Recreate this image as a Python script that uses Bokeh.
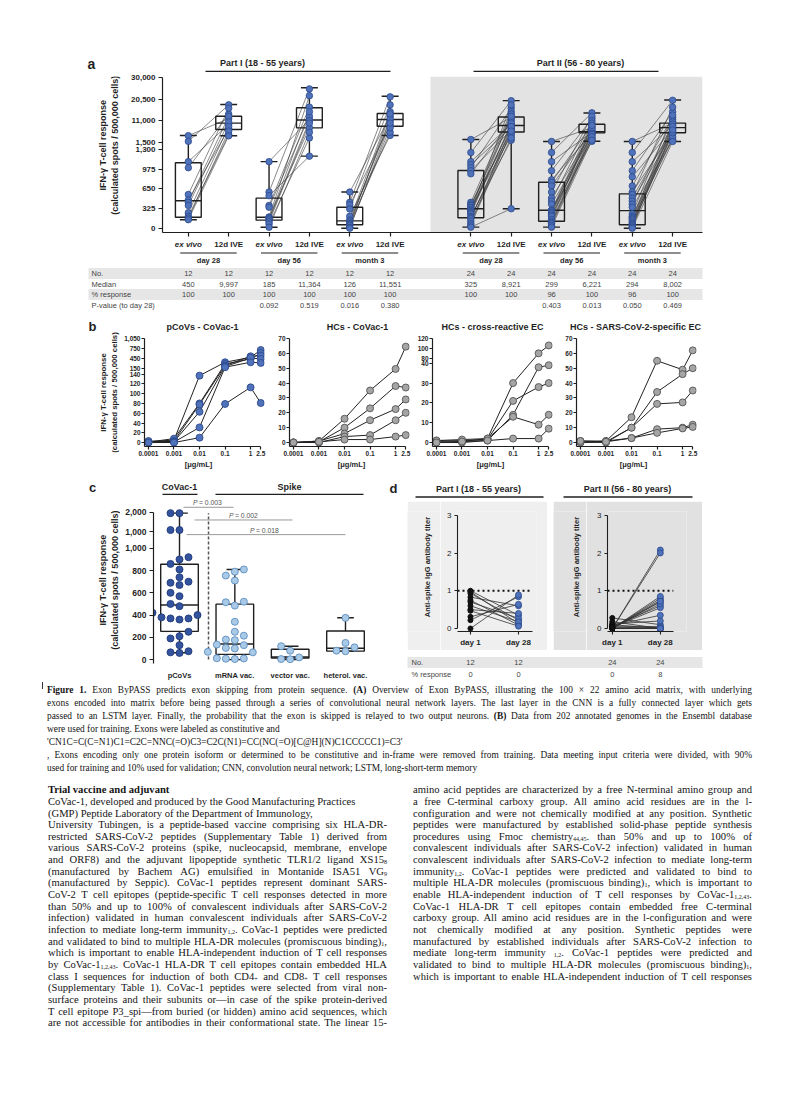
import numpy as np
from math import pi, log10
from bokeh.plotting import figure
from bokeh.models import Range1d, Label, BoxAnnotation, FixedTicker, Div, Spacer
from bokeh.layouts import column, row
from bokeh.embed import file_html
from bokeh.resources import INLINE

SANS = "Liberation Sans"
INK = "#1f1f1f"
BLUE_F, BLUE_L = "#4f72ba", "#2c4a8c"
DBLUE_F, DBLUE_L = "#34539f", "#1f3a78"
LBLUE_F, LBLUE_L = "#a9cae7", "#5b8cc0"
GRAY_F, GRAY_L = "#a5a5a5", "#555555"

# ======================= DATA =======================
# ---- panel a ----
A_POS = [0, 1, 2, 3, 4, 5, 7, 8, 9, 10, 11, 12]
A_CAT = ["ex vivo", "12d IVE"] * 6
A_GROUP = ["day 28", "day 56", "month 3", "day 28", "day 56", "month 3"]
A_PART = ["Part I (18 - 55 years)", "Part II (56 - 80 years)"]
A_YTICKS = [0, 325, 650, 975, 1300, 1500, 11000, 20500, 30000]
A_YLABELS = ["0", "325", "650", "975", "1,300", "1,500", "11,000", "20,500", "30,000"]

a1_d28_ev = [4500, 2000, 1100, 1000, 560, 470, 430, 380, 260, 200, 170, 145]
a1_d28_ive = [12000, 18000, 9500, 14000, 16500, 7500, 13000, 10500, 8500, 5000, 6500, 4400]
a1_d56_ev = [1100, 600, 540, 380, 350, 190, 180, 160, 140, 110, 75, 20]
a1_d56_ive = [11600, 25000, 1190, 17000, 13000, 22000, 8000, 15000, 11100, 10000, 3500, 6000]
a1_m3_ev = [600, 430, 390, 320, 200, 140, 112, 90, 70, 50, 20, 5]
a1_m3_ive = [13000, 21500, 9000, 18000, 4600, 15000, 11100, 12000, 6000, 14000, 8000, 10000]
a2_d28_ev = [2800, 1250, 1100, 1050, 1000, 950, 900, 430, 400, 380, 350, 340,
             310, 300, 280, 260, 240, 200, 180, 160, 120, 80, 50, 22]
a2_d28_ive = [12500, 19800, 9500, 8000, 16500, 7000, 11000, 15000, 6000, 12000, 14000, 4500,
              9000, 18000, 8850, 13000, 10000, 2500, 5500, 7500, 3500, 8500, 6500, 325]
a2_d56_ev = [1950, 1250, 1100, 950, 800, 760, 700, 600, 500, 450, 400, 300,
             298, 290, 270, 250, 220, 200, 150, 120, 100, 80, 50, 22]
a2_d56_ive = [8000, 14500, 6000, 12000, 5600, 9500, 7000, 13000, 5800, 11000, 4500, 6500,
              10000, 3000, 8500, 5700, 2000, 7500, 9000, 5500, 3500, 5000, 4000, 2500]
a2_m3_ev = [1950, 1250, 1100, 950, 850, 700, 600, 560, 500, 450, 400, 350,
            240, 200, 180, 160, 140, 110, 90, 70, 60, 40, 20, 5]
a2_m3_ive = [10000, 20000, 9000, 15000, 7500, 12500, 6000, 17000, 8100, 5500, 11500, 2500,
             13500, 7900, 5000, 10500, 3000, 9500, 6500, 4000, 8500, 5800, 7000, 1950]

A_Q1 = [186, 7200, 137, 7920, 61, 8600, 176, 6130, 120, 5720, 61, 5750]
A_MED = [456, 10000, 185, 11360, 126, 11550, 325, 8920, 299, 6220, 294, 8000]
A_Q3 = [1081, 13030, 500, 16700, 350, 14200, 954, 12700, 762, 9500, 570, 10000]
A_LO = [143, 4440, 20, 1190, 5, 4570, 22, 325, 22, 2070, 5, 1940]
A_HI = [4570, 18160, 1100, 25480, 600, 21800, 2800, 19850, 1950, 14460, 1950, 20140]

A_TAB_ROWS = ["No.", "Median", "% response", "P-value (to day 28)"]
A_N = [12, 12, 12, 12, 12, 12, 24, 24, 24, 24, 24, 24]
A_MEDIAN = [450, 9997, 185, 11364, 126, 11551, 325, 8921, 299, 6221, 294, 8002]
A_RESP = [100, 100, 100, 100, 100, 100, 100, 100, 96, 100, 96, 100]
A_PVAL = ["", "", "0.092", "0.519", "0.016", "0.380", "", "", "0.403", "0.013", "0.050", "0.469"]

# ---- panel b ----
B_CONC = [0.0001, 0.001, 0.01, 0.1, 1, 2.5]
B_XLABELS = ["0.0001", "0.001", "0.01", "0.1", "1", "2.5"]
B_TITLES = ["pCoVs - CoVac-1", "HCs - CoVac-1", "HCs - cross-reactive EC", "HCs - SARS-CoV-2-specific EC"]
b_pcovs = [[2, 5, 137, 330, 480, 700],
           [1, 8, 80, 280, 430, 610],
           [0, 3, 78, 230, 510, 530],
           [1, 2, 63, 200, 460, 430],
           [3, 1, 31, 180, 330, 310],
           [0, 0, 10, 79, 113, 81]]
b_hcs = [[0, 1, 16, 35, 49.5, 64.5],
         [0, 0.5, 10, 23, 38, 37],
         [0, 1, 6, 15, 22.5, 29],
         [0, 0, 4, 5, 15, 20],
         [0, 0.5, 2, 2, 4, 5]]
b_cross = [[1, 0.5, 2, 30, 90, 106],
           [0.5, 1, 1.5, 21, 28, 30],
           [0, 0, 1, 14, 38, 39],
           [1, 1.5, 2, 13, 9, 14],
           [0, 0.5, 1, 2, 2, 7]]
b_spec = [[1, 1, 17, 55, 49, 62],
          [0, 0.5, 10, 34, 46, 50],
          [0.5, 0, 10, 26, 27, 35],
          [0, 1, 3, 9, 10, 12],
          [1, 0.5, 3, 6.5, 9.5, 10.5]]
B1_YT = [0, 20, 40, 60, 80, 100, 120, 140, 150, 450, 750, 1050]
B1_YL = ["0", "20", "40", "60", "80", "100", "120", "140", "150", "450", "750", "1,050"]
B2_YT = [0, 10, 20, 30, 40, 50, 60, 70]
B3_YT = [0, 10, 20, 30, 40, 80, 100, 120]

# ---- panel c ----
C_GROUPS = ["pCoVs", "mRNA vac.", "vector vac.", "heterol. vac."]
c_pcovs = [1950, 1950, 1085, 1085, 920, 900, 860, 810, 740, 700, 690, 670, 600, 570, 500,
           480, 420, 400, 380, 370, 370, 360, 250, 210, 190, 130, 75, 65, 60]
c_mrna = [810, 790, 755, 710, 520, 515, 485, 340, 250, 215, 180, 175, 135, 130, 105, 100,
          70, 65, 12, 10, 8, 5]
c_vector = [120, 80, 20, 5, 3]
c_heterol = [375, 150, 110, 80, 75]
C_Q1 = [254, 47, 15, 76]
C_MED = [490, 140, 23, 102]
C_Q3 = [857, 498, 93, 257]
C_LO = [61, 0, 0, 76]
C_HI = [1950, 810, 120, 376]
C_YT_LOW = [0, 200, 400, 600, 800, 1000]
C_YT_UP = [1000, 2000]
C_PVALS = ["0.003", "0.002", "0.018"]

# ---- panel d ----
D_DAYS = ["day 1", "day 28"]
d1_day1 = [1.0, 0.97, 0.93, 0.83, 0.75, 0.7, 0.6, 0.5, 0.47, 0.31, 0.22, 0.0]
d1_day28 = [0.35, 0.13, 0.22, 0.6, 0.09, 0.27, 0.18, 0.4, 0.06, 0.64, 0.84, 0.89]
d2_day1 = [0.28, 0.18, 0.12, 0.1, 0.08, 0.06, 0.05, 0.04, 0.03, 0.02, 0.02, 0.01,
           0.01, 0, 0, 0, 0, 0, 0, 0, 0, 0, 0, 0]
d2_day28 = [0.1, 0.0, 0.2, 0.0, 0.35, 0.05, 0.6, 0.0, 0.55, 0.7, 0.0, 0.65,
            0.75, 2.08, 0.8, 0.0, 2.0, 0.85, 0.72, 0.02, 0.0, 0.0, 0.0, 0.0]
D_PART = ["Part I (18 - 55 years)", "Part II (56 - 80 years)"]
D_TAB_ROWS = ["No.", "% response"]
D_N = [12, 12, 24, 24]
D_RESP = [0, 0, 0, 8]


# ======================= HELPERS =======================
class Fr:
    """frame position on the page (pixels) and its data ranges"""
    def __init__(s, l, t, r, b, x0, x1, y0, y1, xlog=False):
        s.l, s.t, s.r, s.b = l, t, r, b
        s.x0, s.x1, s.y0, s.y1, s.xlog = x0, x1, y0, y1, xlog

    def X(s, px):
        f = (px - s.l) / (s.r - s.l)
        if s.xlog:
            return 10 ** (log10(s.x0) + f * (log10(s.x1) - log10(s.x0)))
        return s.x0 + f * (s.x1 - s.x0)

    def PX(s, x):
        return s.l + (x - s.x0) / (s.x1 - s.x0) * (s.r - s.l)

    def Y(s, py):
        return s.y0 + (s.b - py) / (s.b - s.t) * (s.y1 - s.y0)


def mkfig(fx, fy, w, h, F, x_axis_type="linear", bg="white"):
    p = figure(width=w, height=h, x_range=Range1d(F.x0, F.x1), y_range=Range1d(F.y0, F.y1),
               x_axis_type=x_axis_type, output_backend="svg", toolbar_location=None,
               min_border_left=F.l - fx, min_border_right=fx + w - F.r,
               min_border_top=F.t - fy, min_border_bottom=fy + h - F.b)
    p.xgrid.visible = False
    p.ygrid.visible = False
    p.outline_line_color = None
    p.background_fill_color = bg
    p.border_fill_color = bg
    return p


def decor(fx, fy, w, h, bg="white"):
    """annotation strip whose data coordinates are page pixels"""
    p = figure(width=w, height=h, x_range=Range1d(fx, fx + w), y_range=Range1d(fy + h, fy),
               output_backend="svg", toolbar_location=None,
               x_axis_location=None, y_axis_location=None,
               min_border_left=0, min_border_right=0, min_border_top=0, min_border_bottom=0)
    p.xgrid.visible = False
    p.ygrid.visible = False
    p.outline_line_color = None
    p.background_fill_color = bg
    p.border_fill_color = bg
    return p


def style_axes(p, size="8px", style="bold", tick_out=4, standoff=3, lw=1.2):
    for ax in p.axis:
        ax.axis_line_color = INK
        ax.axis_line_width = lw
        ax.major_tick_line_color = INK
        ax.major_tick_line_width = lw
        ax.major_tick_in = 0
        ax.major_tick_out = tick_out
        ax.minor_tick_line_color = None
        ax.major_label_text_font = SANS
        ax.major_label_text_font_size = size
        ax.major_label_text_font_style = style
        ax.major_label_text_color = INK
        ax.major_label_standoff = standoff


def set_ticks(ax, ticks, labels):
    ax.ticker = FixedTicker(ticks=list(ticks))
    ax.major_label_overrides = {t: l for t, l in zip(ticks, labels)}


def lab(p, x, y, text, size=8, style="normal", align="center", base="middle",
        color=INK, angle=0.0, font=SANS):
    p.add_layout(Label(x=x, y=y, text=text, text_font=font, text_font_size=f"{size}px",
                       text_font_style=style, text_align=align, text_baseline=base,
                       text_color=color, angle=angle))


def seg(p, x0, x1, y0, y1, color=INK, width=1.2, dash="solid"):
    p.segment(x0=[x0], x1=[x1], y0=[y0], y1=[y1], line_color=color, line_width=width, line_dash=dash)


def draw_boxes(p, xs, q1, med, q3, lo, hi, tf, bw, cw, color=INK, lw=1.4):
    xs = np.asarray(xs, float)
    p.segment(x0=xs, x1=xs, y0=tf(lo), y1=tf(q1), line_color=color, line_width=lw)
    p.segment(x0=xs, x1=xs, y0=tf(q3), y1=tf(hi), line_color=color, line_width=lw)
    p.segment(x0=xs - cw / 2, x1=xs + cw / 2, y0=tf(lo), y1=tf(lo), line_color=color, line_width=lw)
    p.segment(x0=xs - cw / 2, x1=xs + cw / 2, y0=tf(hi), y1=tf(hi), line_color=color, line_width=lw)
    p.quad(left=xs - bw / 2, right=xs + bw / 2, bottom=tf(q1), top=tf(q3),
           fill_color=None, line_color=color, line_width=lw)
    p.segment(x0=xs - bw / 2, x1=xs + bw / 2, y0=tf(med), y1=tf(med), line_color=color, line_width=lw)


def ytitle(p, px1, px2, py, size):
    lab(p, px1, py, "IFN-\u03b3 T-cell response", size=size, style="bold", angle=pi / 2)
    lab(p, px2, py, "(calculated spots / 500,000 cells)", size=size, style="bold", angle=pi / 2)


# ======================= PANEL A =======================
def t_a(v):
    v = np.asarray(v, float)
    return np.where(v <= 1300, v, 1415.2 + (v - 1500) * 0.03753)


FA = Fr(162, 76, 702, 232, -0.64, 12.74, -66, 2501)
fa = mkfig(122, 72, 670, 168, FA)
fa.add_layout(BoxAnnotation(left=6, fill_color="#e3e3e3", fill_alpha=1.0, line_color=None, level="underlay"))
style_axes(fa, size="8px", style="bold")
ya = [int(round(float(t_a(v)))) for v in A_YTICKS]
set_ticks(fa.yaxis[0], ya, A_YLABELS)
fa.yaxis.bounds = (FA.y0, ya[-1])
set_ticks(fa.xaxis[0], A_POS, [""] * len(A_POS))
fa.xaxis.major_label_text_font_size = "1px"
fa.xaxis.major_label_standoff = 0

ev_sets = [a1_d28_ev, a1_d56_ev, a1_m3_ev, a2_d28_ev, a2_d56_ev, a2_m3_ev]
ive_sets = [a1_d28_ive, a1_d56_ive, a1_m3_ive, a2_d28_ive, a2_d56_ive, a2_m3_ive]
lxs, lys, px, py = [], [], [], []
for k in range(6):
    xe, xi = A_POS[2 * k], A_POS[2 * k + 1]
    for e, i in zip(ev_sets[k], ive_sets[k]):
        lxs.append([xe, xi])
        lys.append([float(t_a(e)), float(t_a(i))])
    px += [xe] * len(ev_sets[k]) + [xi] * len(ive_sets[k])
    py += list(t_a(ev_sets[k])) + list(t_a(ive_sets[k]))
fa.multi_line(lxs, lys, line_color="#3a3a3a", line_width=0.6)
draw_boxes(fa, A_POS, A_Q1, A_MED, A_Q3, A_LO, A_HI, t_a, bw=0.64, cw=0.42)
fa.scatter(px, py, size=6.5, fill_color=BLUE_F, line_color=BLUE_L, line_width=0.8)

a_top = decor(8, 8, 784, 64)
lab(a_top, 91, 63, "a", size=14, style="bold")
for t, (cx, x0, x1) in zip(A_PART, [(262, 205, 390), (580, 473, 658)]):
    lab(a_top, cx, 62, t, size=9, style="bold")
    seg(a_top, x0, x1, 70.8, 70.8, width=1.2)

a_left = decor(8, 72, 114, 168)
ytitle(a_left, 102, 114, 146, 9)

a_bot = decor(8, 240, 784, 76)
for x, c in zip(A_POS, A_CAT):
    lab(a_bot, FA.PX(x), 244, c, size=8, style="bold italic" if c == "ex vivo" else "bold")
for k in range(6):
    cx = (A_POS[2 * k] + A_POS[2 * k + 1]) / 2
    seg(a_bot, FA.PX(cx - 0.7), FA.PX(cx + 0.7), 252.5, 252.5, width=1.2)
    lab(a_bot, FA.PX(cx), 259.5, A_GROUP[k], size=7.5, style="bold")
for yb in (273, 294):
    a_bot.quad(left=[88], right=[702], top=[yb - 5.5], bottom=[yb + 5.5], fill_color="#e6e6e6", line_color=None)
rows = [[str(v) for v in A_N], [f"{v:,}" for v in A_MEDIAN], [str(v) for v in A_RESP], A_PVAL]
for name, vals, yr in zip(A_TAB_ROWS, rows, (273, 284, 294, 305)):
    lab(a_bot, 91, yr, name, size=7.5, align="left", color="#444")
    for x, v in zip(A_POS, vals):
        if v:
            lab(a_bot, FA.PX(x), yr, v, size=7.5, color="#444")

panel_a = column(a_top, row(a_left, fa), a_bot)


# ======================= PANEL B =======================
def t_b1(v):
    v = np.asarray(v, float)
    return np.where(v <= 145, v, 152.2 + (v - 150) * 0.06756)


def t_lin(v):
    return np.asarray(v, float)


def t_b3(v):
    v = np.asarray(v, float)
    return np.where(v <= 60, v, 42.5 + (v - 80) * 0.25)


B_FY, B_FH = 334, 124
b_specs = [
    (120, 148, Fr(144, 336, 264, 447, 7e-5, 3.5, -8.1, 217.1, True), b_pcovs, t_b1, B1_YT, B1_YL, (BLUE_F, BLUE_L)),
    (268, 144, Fr(289, 336, 409, 447, 7e-5, 3.5, -2.67, 71.33, True), b_hcs, t_lin, B2_YT, [str(v) for v in B2_YT], (GRAY_F, GRAY_L)),
    (412, 144, Fr(432, 336, 552, 447, 7e-5, 3.5, -2.0, 53.5, True), b_cross, t_b3, B3_YT, [str(v) for v in B3_YT], (GRAY_F, GRAY_L)),
    (556, 236, Fr(576, 336, 696, 447, 7e-5, 3.5, -2.67, 71.33, True), b_spec, t_lin, B2_YT, [str(v) for v in B2_YT], (GRAY_F, GRAY_L)),
]
b_figs = []
for i, (fx, w, F, data, tf, yt, yl, (fc, lc)) in enumerate(b_specs):
    p = mkfig(fx, B_FY, w, B_FH, F, x_axis_type="log")
    style_axes(p, size="6.5px", style="bold", tick_out=3, standoff=1)
    ytv = [float(t) for t in tf(yt)]
    set_ticks(p.yaxis[0], ytv, yl)
    p.yaxis.bounds = (F.y0, ytv[-1])
    set_ticks(p.xaxis[0], B_CONC, B_XLABELS)
    p.xaxis.bounds = (F.x0, 2.5)
    p.multi_line([B_CONC] * len(data), [list(tf(d)) for d in data], line_color="#222", line_width=1.0)
    for d in data:
        p.scatter(B_CONC, tf(d), size=7, fill_color=fc, line_color=lc, line_width=0.9)
    b_figs.append(p)

b_left = decor(8, 316, 112, 154)
lab(b_left, 92, 326, "b", size=13, style="bold")
ytitle(b_left, 102.5, 113.5, 392, 7.8)
b_top = decor(120, 316, 672, 18)
for t, cx in zip(B_TITLES, [202, 357, 492, 635]):
    lab(b_top, cx, 326, t, size=9, style="bold")
b_bot = decor(120, 458, 672, 12)
for cx in [198, 351, 490, 633]:
    lab(b_bot, cx, 463.5, "[\u03bcg/mL]", size=7.5, style="bold")

panel_b = row(b_left, column(b_top, row(*b_figs), b_bot))


# ======================= PANEL C =======================
def t_c(v):
    v = np.asarray(v, float)
    return np.where(v <= 1000, v, 1149.1 + (v - 1000) * 0.1755)


def swarm(tv, ypx, xpx, d=7.6, step=9.0):
    tv = np.asarray(tv, float)
    placed, offs = [], np.zeros(len(tv))
    for i in np.argsort(tv):
        y = tv[i] * ypx
        for k in [0, -1, 1, -2, 2, -3, 3, -4, 4]:
            x = k * step
            if all((x - a) ** 2 + (y - b) ** 2 >= d * d for a, b in placed):
                break
        placed.append((x, y))
        offs[i] = x / xpx
    return offs


FC = Fr(153, 498, 372, 667, -0.47, 3.488, -35, 1447.4)
fcp = mkfig(120, 496, 266, 186, FC)
style_axes(fcp, size="8.5px", style="bold", tick_out=4, standoff=3)
cyt = [int(round(float(t_c(v)))) for v in C_YT_LOW] + [1149, 1325]
cyl = [f"{v:,}" for v in C_YT_LOW] + [f"{v:,}" for v in C_YT_UP]
set_ticks(fcp.yaxis[0], cyt, cyl)
fcp.yaxis.bounds = (FC.y0, 1325)
set_ticks(fcp.xaxis[0], [0, 1, 2, 3], C_GROUPS)
fcp.xaxis.axis_line_color = None
fcp.xaxis.major_tick_line_color = None
fcp.xaxis.major_label_text_font_size = "7.5px"
fcp.xaxis.major_label_standoff = 3

sx = FC.X(208)
seg(fcp, sx, sx, float(t_c(0)), float(t_c(1950)), color="#555", width=1.5, dash="3 2")
for (x0, x1, y, cx), pv in zip([(183, 233, 507, 207), (194, 292, 520, 243), (186, 345, 535, 264)], C_PVALS):
    seg(fcp, FC.X(x0), FC.X(x1), FC.Y(y), FC.Y(y), color="#9a9a9a", width=1.0)
    lab(fcp, FC.X(cx - 14.5), FC.Y(y - 4.5), "P", size=6.8, style="italic", align="left", color="#555")
    lab(fcp, FC.X(cx - 8.5), FC.Y(y - 4.5), "= " + pv, size=6.8, align="left", color="#555")
draw_boxes(fcp, [0, 1, 2, 3], C_Q1, C_MED, C_Q3, C_LO, C_HI, t_c, bw=0.68, cw=0.3)
xpx = (FC.r - FC.l) / (FC.x1 - FC.x0)
ypx = (FC.b - FC.t) / (FC.y1 - FC.y0)
for g, vals in enumerate([c_pcovs, c_mrna, c_vector, c_heterol]):
    tv = t_c(vals)
    off = swarm(tv, ypx, xpx)
    fcol, lcol = (DBLUE_F, DBLUE_L) if g == 0 else (LBLUE_F, LBLUE_L)
    fcp.scatter(g + off, tv, size=7, fill_color=fcol, line_color=lcol, line_width=0.9)

c_top = decor(8, 470, 378, 26)
lab(c_top, 92, 487, "c", size=13, style="bold")
lab(c_top, 179, 486.5, "CoVac-1", size=9, style="bold")
seg(c_top, 162, 197, 493.8, 493.8, width=1.3)
lab(c_top, 289, 486.5, "Spike", size=9, style="bold")
seg(c_top, 215, 363, 493.8, 493.8, width=1.3)
c_left = decor(8, 496, 112, 186)
ytitle(c_left, 102, 114, 588, 9)

panel_c = column(c_top, row(c_left, fcp))


# ======================= PANEL D =======================
def panel_d(fx, w, F, day1, day28, bg, xend):
    p = mkfig(fx, 501, w, 149, F, bg=bg)
    style_axes(p, size="8px", style="bold", tick_out=3, standoff=3, lw=1.1)
    set_ticks(p.xaxis[0], [0, 1], D_DAYS)
    p.yaxis.ticker = FixedTicker(ticks=[0, 1, 2, 3])
    p.yaxis.major_label_text_font_style = "normal"
    p.yaxis.bounds = (0, 3)
    p.xaxis.bounds = (F.x0, xend)
    seg(p, F.x0, xend, 1, 1, color="#111", width=1.8, dash="2 3")
    p.multi_line([[0, 1]] * len(day1), [[a, b] for a, b in zip(day1, day28)], line_color="#333", line_width=0.8)
    p.scatter([0] * len(day1), day1, size=5, fill_color="#111", line_color="#111")
    p.scatter([1] * len(day28), day28, size=6, fill_color=BLUE_F, line_color=BLUE_L, line_width=0.8)
    return p


BG1, BG2 = "#efefef", "#e1e1e1"
FD1 = Fr(457, 511, 536, 631, -0.27, 1.375, -0.08, 3.1)
FD2 = Fr(607, 511, 686, 631, -0.1, 1.545, -0.08, 3.1)
fd1 = panel_d(440, 107, FD1, d1_day1, d1_day28, BG1, 1.29)
fd2 = panel_d(586, 116, FD2, d2_day1, d2_day28, BG2, 1.27)
dl1 = decor(407, 501, 33, 149, bg=BG1)
lab(dl1, 427, 570, "Anti-spike IgG antibody titer", size=7.5, style="bold", angle=pi / 2)
dl2 = decor(553, 501, 33, 149, bg=BG2)
lab(dl2, 576, 570, "Anti-spike IgG antibody titer", size=7.5, style="bold", angle=pi / 2)

d_top = decor(386, 470, 406, 31)
lab(d_top, 393, 488, "d", size=13, style="bold")
for (cx, x0, x1), t in zip([(478, 415, 543), (627, 563, 692)], D_PART):
    lab(d_top, cx, 488.5, t, size=9, style="bold")
    seg(d_top, x0, x1, 496.5, 496.5, width=1.3)

d_bot = decor(386, 650, 406, 32)
d_bot.quad(left=[407], right=[702], top=[656.5], bottom=[667.5], fill_color="#e6e6e6", line_color=None)
d_xs = [FD1.PX(0), FD1.PX(1), FD2.PX(0), FD2.PX(1)]
for name, vals, yr in zip(D_TAB_ROWS, [D_N, D_RESP], (662, 674)):
    lab(d_bot, 411, yr, name, size=7.5, align="left", color="#444")
    for x, v in zip(d_xs, vals):
        lab(d_bot, x, yr, str(v), size=7.5, color="#444")

d_mid = row(Spacer(width=21, height=149), dl1, fd1, Spacer(width=6, height=149), dl2, fd2,
            Spacer(width=90, height=149))
panel_d_col = column(d_top, d_mid, d_bot)

# ======================= TEXT =======================
CAPTION = [
    ("<b>Figure 1.</b> Exon ByPASS predicts exon skipping from protein sequence. <b>(A)</b> Overview of Exon ByPASS, illustrating the 100 \u00d7 22 amino acid matrix, with underlying", True),
    ("exons encoded into matrix before being passed through a series of convolutional neural network layers. The last layer in the CNN is a fully connected layer which gets", True),
    ("passed to an LSTM layer. Finally, the probability that the exon is skipped is relayed to two output neurons. <b>(B)</b> Data from 202 annotated genomes in the Ensembl database", True),
    ("were used for training. Exons were labeled as constitutive and", False),
    ("'CN1C=C(C=N1)C1=C2C=NNC(=O)C3=C2C(N1)=CC(NC(=O)[C@H](N)C1CCCCC1)=C3'", False),
    (", Exons encoding only one protein isoform or determined to be constitutive and in-frame were removed from training. Data meeting input criteria were divided, with 90%", True),
    ("used for training and 10% used for validation; CNN, convolution neural network; LSTM, long-short-term memory", False),
]
S = '<sub style="font-size:6px;vertical-align:-1px;line-height:0">{}</sub>'
LEFT = [
    ("<b>Trial vaccine and adjuvant</b>", False),
    ("CoVac-1, developed and produced by the Good Manufacturing Practices", False),
    ("(GMP) Peptide Laboratory of the Department of Immunology,", False),
    ("University Tubingen, is a peptide-based vaccine comprising six HLA-DR-", True),
    ("restricted SARS-CoV-2 peptides (Supplementary Table 1) derived from", True),
    ("various SARS-CoV-2 proteins (spike, nucleocapsid, membrane, envelope", True),
    ("and ORF8) and the adjuvant lipopeptide synthetic TLR1/2 ligand XS15" + S.format("8"), True),
    ("(manufactured by Bachem AG) emulsified in Montanide ISA51 VG" + S.format("9"), True),
    ("(manufactured by Seppic). CoVac-1 peptides represent dominant SARS-", True),
    ("CoV-2 T cell epitopes (peptide-specific T cell responses detected in more", True),
    ("than 50% and up to 100% of convalescent individuals after SARS-CoV-2", True),
    ("infection) validated in human convalescent individuals after SARS-CoV-2", True),
    ("infection to mediate long-term immunity" + S.format("1,2") + ". CoVac-1 peptides were predicted", True),
    ("and validated to bind to multiple HLA-DR molecules (promiscuous binding)" + S.format("1") + ",", True),
    ("which is important to enable HLA-independent induction of T cell responses", True),
    ("by CoVac-1" + S.format("1,2,43") + ". CoVac-1 HLA-DR T cell epitopes contain embedded HLA", True),
    ("class I sequences for induction of both CD4" + S.format("+") + " and CD8" + S.format("+") + " T cell responses", True),
    ("(Supplementary Table 1). CoVac-1 peptides were selected from viral non-", True),
    ("surface proteins and their subunits or\u2014in case of the spike protein-derived", True),
    ("T cell epitope P3_spi\u2014from buried (or hidden) amino acid sequences, which", True),
    ("are not accessible for antibodies in their conformational state. The linear 15-", True),
]
RIGHT = [
    ("amino acid peptides are characterized by a free N-terminal amino group and", True),
    ("a free C-terminal carboxy group. All amino acid residues are in the l-", True),
    ("configuration and were not chemically modified at any position. Synthetic", True),
    ("peptides were manufactured by established solid-phase peptide synthesis", True),
    ("procedures using Fmoc chemistry" + S.format("44,45") + ". than 50% and up to 100% of", True),
    ("convalescent individuals after SARS-CoV-2 infection) validated in human", True),
    ("convalescent individuals after SARS-CoV-2 infection to mediate long-term", True),
    ("immunity" + S.format("1,2") + ". CoVac-1 peptides were predicted and validated to bind to", True),
    ("multiple HLA-DR molecules (promiscuous binding)" + S.format("1") + ", which is important to", True),
    ("enable HLA-independent induction of T cell responses by CoVac-1" + S.format("1,2,43") + ".", True),
    ("CoVac-1 HLA-DR T cell epitopes contain embedded free C-terminal", True),
    ("carboxy group. All amino acid residues are in the l-configuration and were", True),
    ("not chemically modified at any position. Synthetic peptides were", True),
    ("manufactured by established individuals after SARS-CoV-2 infection to", True),
    ("mediate long-term immunity " + S.format("1,2") + ". CoVac-1 peptides were predicted and", True),
    ("validated to bind to multiple HLA-DR molecules (promiscuous binding)" + S.format("1") + ",", True),
    ("which is important to enable HLA-independent induction of T cell responses", True),
]


def lines_html(lines, left, top, width, size, lh):
    out = []
    for k, (txt, just) in enumerate(lines):
        al = "text-align:justify;text-align-last:justify;" if just else "text-align:left;"
        out.append(f'<div style="position:absolute;left:{left}px;top:{top + k * lh:.1f}px;width:{width}px;'
                   f'height:{lh}px;line-height:{lh}px;font-size:{size}px;white-space:nowrap;{al}">{txt}</div>')
    return "".join(out)


BODY_LH = 11.65
html = ('<div style="position:relative;width:784px;height:410px;font-family:\'Liberation Serif\',serif;color:#141414;">'
        '<div style="position:absolute;left:34px;top:0px;width:1px;height:7px;background:#333;"></div>'
        + lines_html(CAPTION, 39, 1.5, 705, 9.4, 13)
        + lines_html(LEFT, 40, 102.2, 339, 10.6, BODY_LH)
        + lines_html(RIGHT, 405, 102.2, 339, 10.6, BODY_LH)
        + '</div>')
text_div = Div(text=html, width=784, height=410, margin=(0, 0, 0, 0))

# ======================= LAYOUT =======================
row_cd = row(panel_c, panel_d_col)
content = column(panel_a, panel_b, row_cd, text_div)
page = column(Spacer(width=792, height=8), row(Spacer(width=8, height=1084), content))

open("out.html", "w").write(file_html(page, INLINE, title="Figure 1"))
